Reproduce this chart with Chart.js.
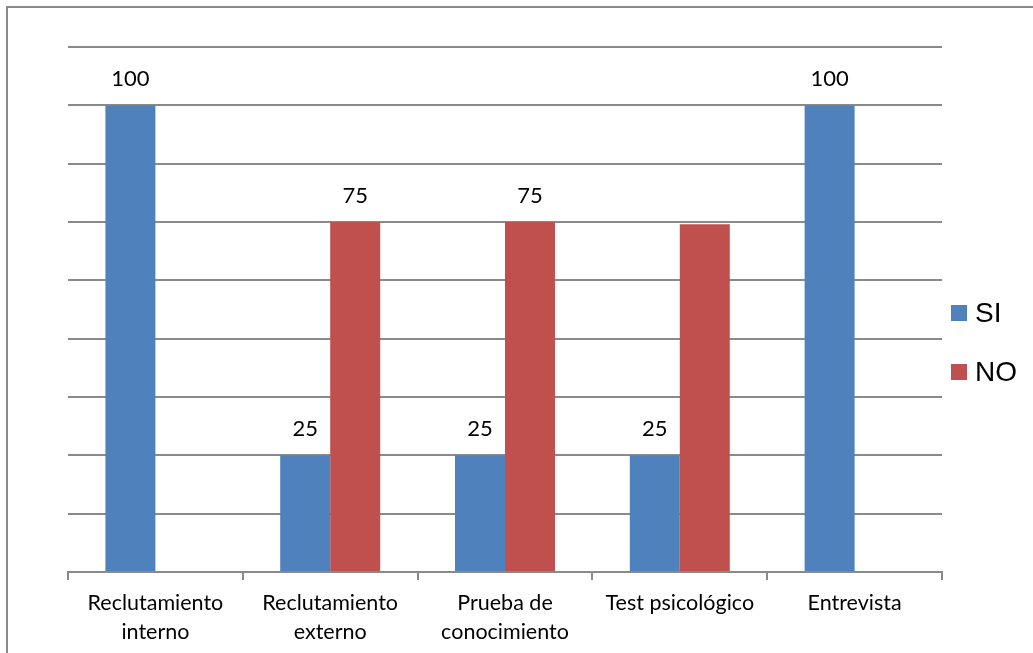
<!DOCTYPE html>
<html>
<head>
<meta charset="utf-8">
<script src="https://cdn.jsdelivr.net/npm/chart.js@4"></script>
<style>
  html, body { margin: 0; padding: 0; background: #fff; }
  #wrap { position: relative; width: 1033px; height: 653px; overflow: hidden; }
  #frame { position: absolute; left: 6px; top: 6px; width: 1040px; height: 670px; border: 2px solid #8a8a8a; box-sizing: border-box; }
  canvas { position: absolute; left: 0; top: 0; }
  #legend { position: absolute; left: 951px; top: 283px; font-family: "Liberation Sans", Arial, sans-serif; font-size: 28px; color: #000; }
  #legend div { display: flex; align-items: center; height: 59px; }
  #legend span.sw { display: inline-block; width: 16px; height: 16px; margin-right: 8px; }
</style>
</head>
<body>
<div id="wrap">
  <div id="frame"></div>
  <canvas id="c" width="1033" height="660"></canvas>
  <div id="legend"></div>
</div>
<script>
// Categories and series
const categories = [['Reclutamiento', 'interno'], ['Reclutamiento', 'externo'], ['Prueba de', 'conocimiento'], 'Test psicológico', 'Entrevista'];
const siValues = [100, 25, 25, 25, 100];
const noValues = [null, 75, 75, 74.5, null];
// value labels shown above bars (the one over "Test psicológico" NO is blanked in the original)
const siLabels = ['100', '25', '25', '25', '100'];
const noLabels = [null, '75', '75', null, null];
const seriesNames = ['SI', 'NO'];
const seriesColors = ['#4f81bd', '#c0504d'];

const FONT = 'Lato, "Open Sans", sans-serif';

// Value labels over the bars
const barLabels = {
  id: 'barLabels',
  afterDatasetsDraw(chart) {
    const ctx = chart.ctx;
    const sets = [siLabels, noLabels];
    ctx.save();
    ctx.font = '22px ' + FONT;
    ctx.fillStyle = '#000';
    ctx.textAlign = 'center';
    ctx.textBaseline = 'middle';
    chart.data.datasets.forEach((ds, i) => {
      chart.getDatasetMeta(i).data.forEach((bar, j) => {
        const t = sets[i][j];
        if (t == null || ds.data[j] == null) return;
        ctx.fillText(t, bar.x, bar.y - 26);
      });
    });
    ctx.restore();
  },
};

const chart = new Chart(document.getElementById('c'), {
  type: 'bar',
  data: {
    labels: categories,
    datasets: [
      { label: seriesNames[0], data: siValues, backgroundColor: seriesColors[0] },
      { label: seriesNames[1], data: noValues, backgroundColor: seriesColors[1] },
    ],
  },
  options: {
    responsive: false,
    animation: false,
    layout: { padding: { left: 68, right: 91, top: 47, bottom: 4 } },
    plugins: { legend: { display: false }, tooltip: { enabled: false } },
    datasets: { bar: { barPercentage: 1, categoryPercentage: 0.572 } },
    scales: {
      x: {
        grid: { display: true, drawOnChartArea: false, drawTicks: true, tickLength: 8, color: '#8a8a8a', lineWidth: 2, offset: true },
        border: { color: '#8a8a8a', width: 2 },
        ticks: { color: '#000', font: { family: FONT, size: 21.5, lineHeight: 1.35 }, maxRotation: 0, padding: 9 },
      },
      y: {
        min: 0,
        max: 112.5,
        ticks: { display: false, stepSize: 12.5 },
        grid: { color: '#8a8a8a', lineWidth: 2, drawTicks: false },
        border: { display: false },
      },
    },
  },
  plugins: [barLabels],
});

// HTML legend built from the series
document.getElementById('legend').innerHTML = seriesNames.map((n, i) =>
  `<div><span class="sw" style="background:${seriesColors[i]}"></span>${n}</div>`).join('');
</script>
</body>
</html>
